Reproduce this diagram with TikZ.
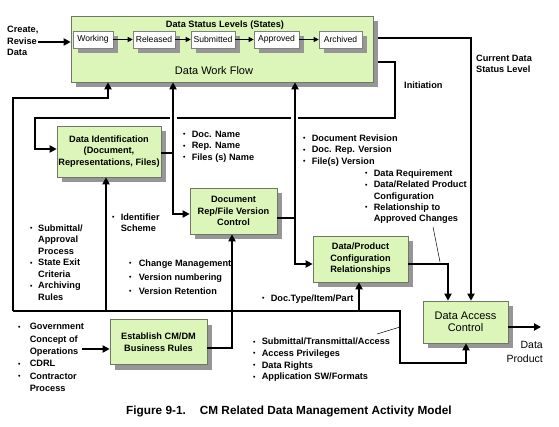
\documentclass[tikz,border=0pt]{standalone}
\usepackage{fontspec}
\usepackage{graphicx}
\setmainfont{Liberation Sans}
\usetikzlibrary{arrows.meta,shadows}
\definecolor{boxgreen}{RGB}{220,246,186}
\definecolor{boxedge}{RGB}{110,120,100}
\definecolor{shd}{RGB}{150,150,150}
\newcommand{\bu}[1][8pt]{\makebox[#1][l]{\raisebox{0.6pt}{\scalebox{0.75}{•}}}}
\newcommand{\ind}[1][8pt]{\hspace*{#1}}
\newcommand{\fb}{\fontsize{9.2}{11.5}\selectfont\bfseries}
\tikzset{
  conn/.style={line width=1.8pt},
  arr/.style={conn,-{Triangle[length=7pt,width=7pt]}},
  thinarr/.style={line width=0.9pt,-{Triangle[length=5pt,width=5pt]}},
  leader/.style={line width=0.5pt},
  gbox/.style={draw=boxedge, line width=0.6pt, fill=boxgreen,
    general shadow={fill=shd, shadow xshift=5pt, shadow yshift=-5pt},
    align=center, font=\fb, inner sep=0pt},
  sbox/.style={draw=gray, line width=0.6pt, fill=white,
    general shadow={fill=shd, shadow xshift=5pt, shadow yshift=-5pt},
    font=\fontsize{8.6}{10}\selectfont, minimum height=17pt, inner sep=0pt},
  lst/.style={anchor=north west, align=left, inner sep=0pt, font=\fb},
}
\begin{document}
\begin{tikzpicture}[x=1pt,y=-1pt]
\useasboundingbox (0,0) rectangle (559,427);

% ---- boxes
\node[gbox, minimum width=302pt, minimum height=66pt] (dwf) at (222,49) {};
\node[font=\fb, inner sep=0pt] (dsl) at (225,25) {Data Status Levels (States)};
\node[font=\fontsize{11}{13}\selectfont, inner sep=0pt] (dwft) at (214,71) {Data Work Flow};
\node[sbox, minimum width=40pt] (working) at (93,39.5) {Working};
\node[sbox, minimum width=42pt] (released) at (154,39.5) {Released};
\node[sbox, minimum width=44pt] (submitted) at (213,39.5) {Submitted};
\node[sbox, minimum width=45pt] (approved) at (276.5,39.5) {Approved};
\node[sbox, minimum width=43pt] (archived) at (340.5,39.5) {Archived};

\node[gbox, minimum width=104pt, minimum height=51pt] (dataid) at (109,151.5)
  {Data Identification\\(Document,\\Representations, Files)};
\node[gbox, minimum width=87pt, minimum height=46pt] (docrep) at (233.5,211)
  {Document\\Rep/File Version\\Control};
\node[gbox, minimum width=95pt, minimum height=46pt] (dpc) at (360.5,259)
  {Data/Product\\Configuration\\Relationships};
\node[gbox, minimum width=85pt, minimum height=42pt,
  font=\fontsize{11}{12}\selectfont] (dac) at (465.5,322) {Data Access\\Control};
\node[gbox, minimum width=97pt, minimum height=45pt] (est) at (158.5,342)
  {Establish CM/DM\\Business Rules};

% ---- state arrows
\draw[thinarr] (working) -- (released);
\draw[thinarr] (released) -- (submitted);
\draw[thinarr] (submitted) -- (approved);
\draw[thinarr] (approved) -- (archived);

% ---- create
\node[lst] (create) at (7,26) {Create,\\Revise\\Data};
\coordinate (cr) at (38,42);
\draw[arr] (cr) -- (cr -| dwf.west);

% ---- initiation loop
\coordinate (in1) at (395,62);
\coordinate (in2) at (395,118);
\coordinate (g1a) at (298,118);
\coordinate (g1b) at (291,118);
\coordinate (g2a) at (177,118);
\coordinate (g2b) at (170,118);
\coordinate (in3) at (35,118);
\coordinate (in4) at (35,149);
\draw[conn] ([xshift=5pt]dwf.east |- in1) -- (in1) -- (in2) -- (g1a);
\draw[conn] (g1b) -- (g2a);
\draw[arr] (g2b) -- (in3) -- (in4) -- (in4 -| dataid.west);

% ---- current data status level
\coordinate (cs1) at (471,38);
\draw[arr] ([xshift=5pt]dwf.east |- cs1) -- (cs1) -- (cs1 |- dac.north);

% ---- left / bottom loop
\coordinate (l1) at (108,98);
\coordinate (l2) at (13,98);
\coordinate (l3) at (13,311);
\coordinate (l4) at (400,311);
\coordinate (l5) at (400,363);
\coordinate (l6) at (466,363);
\draw[arr] (l3) -- (l2) -- (l1) -- (l1 |- dwf.south);
\draw[arr] (l3) -- (l4) -- (l5) -- (l6) -- (l6 |- dac.south);
\coordinate (b1) at (106,311);
\draw[arr] (b1) -- (b1 |- dataid.south);
\coordinate (b3) at (359,311);
\draw[arr] (b3) -- (b3 |- dpc.south);
\coordinate (e1) at (232,348);
\draw[arr] (est.east |- e1) -- (e1) -- (e1 |- docrep.south);

% ---- data id
\coordinate (d1) at (173,153);
\coordinate (d2) at (173,214);
\draw[arr] (dataid.east |- d1) -- (d1) -- (d1 |- dwf.south);
\draw[arr] (d1) -- (d2) -- (d2 -| docrep.west);

% ---- doc rep
\coordinate (r1) at (295,218);
\coordinate (r2) at (295,264);
\draw[arr] (docrep.east |- r1) -- (r1) -- (r1 |- dwf.south);
\draw[arr] (r1) -- (r2) -- (r2 -| dpc.west);

% ---- dpc to dac
\coordinate (p1) at (448,264);
\draw[arr] (dpc.east |- p1) -- (p1) -- (p1 |- dac.north);

% ---- output
\coordinate (o1) at (541,327);
\draw[arr] (dac.east |- o1) -- (o1);

% ---- government arrow
\coordinate (gv) at (82,349);
\draw[arr] (gv) -- (gv -| est.west);

% ---- leaders
\coordinate (ld1) at (433,227);
\coordinate (ld2) at (440,262);
\draw[leader] (ld1) -- (ld2);
\coordinate (ld3) at (377,334);
\coordinate (ld4) at (400,327);
\draw[leader] (ld3) -- (ld4);

% ---- labels
\node[lst] (tinit) at (404,81.5) {Initiation};
\node[lst, font=\fontsize{9.2}{11.7}\selectfont\bfseries] (tcur) at (476,54.5) {Current Data\\Status Level};
\node[anchor=north east, align=right, inner sep=0pt, font=\fontsize{10.5}{14}\selectfont] (tprod) at (543,341.5) {Data\\Product};

\node[lst] (tB) at (30,224.5) {\bu Submittal/\\\ind Approval\\\ind Process\\\bu State Exit\\\ind Criteria\\\bu Archiving\\\ind Rules};
\node[lst] (tC) at (112,213.5) {\bu[6pt] Identifier\\\ind[6pt] Scheme};
\node[lst, font=\fontsize{9.2}{11.7}\selectfont\bfseries] (tD) at (183,130.5) {\bu[6pt] Doc. Name\\\bu[6pt] Rep. Name\\\bu[6pt] Files (s) Name};
\node[lst, font=\fontsize{9.2}{13.9}\selectfont\bfseries] (tE) at (129,259.5) {\bu[7pt] Change Management\\\bu[7pt] Version numbering\\\bu[7pt] Version Retention};
\node[lst, font=\fontsize{9.2}{11.4}\selectfont\bfseries] (tF) at (303,134.5) {\bu[6pt] Document Revision\\\bu[6pt] Doc. Rep. Version\\\bu[6pt] File(s) Version};
\node[lst, font=\fontsize{9.2}{11.4}\selectfont\bfseries] (tG) at (365,169.5) {\bu[6pt] Data Requirement\\\bu[6pt] Data/Related Product\\\ind[6pt] Configuration\\\bu[6pt] Relationship to\\\ind[6pt] Approved Changes};
\node[lst] (tH) at (262,294.5) {\bu[6pt] Doc.Type/Item/Part};
\node[lst, font=\fontsize{9.2}{11.7}\selectfont\bfseries] (tI) at (253,338) {\bu[6pt] Submittal/Transmittal/Access\\\bu[6pt] Access Privileges\\\bu[6pt] Data Rights\\\bu[6pt] Application SW/Formats};
\node[lst, font=\fontsize{9.2}{12.4}\selectfont\bfseries] (tJ) at (18,323) {\bu[9pt] Government\\\ind[9pt] Concept of\\\ind[9pt] Operations\\\bu[9pt] CDRL\\\bu[9pt] Contractor\\\ind[9pt] Process};

\node[anchor=west, inner sep=0pt, font=\fontsize{11.8}{14}\selectfont\bfseries] (cap) at (126,411) {Figure 9-1.\hspace{14pt}CM Related Data Management Activity Model};
\end{tikzpicture}
\end{document}
